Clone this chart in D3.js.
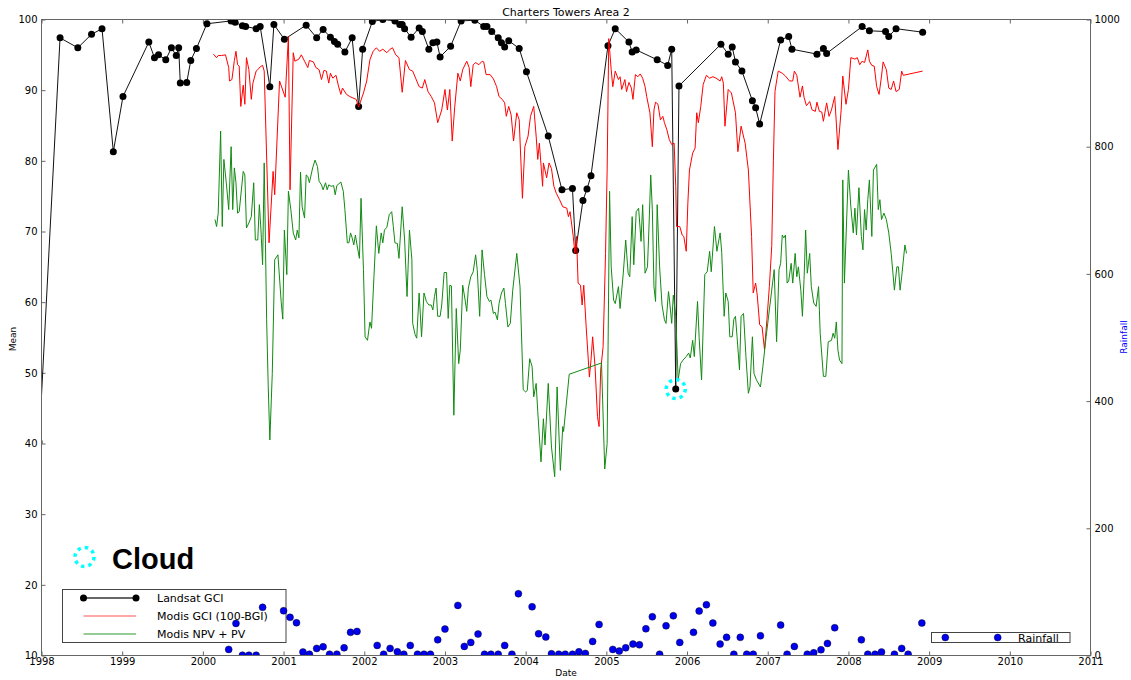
<!DOCTYPE html>
<html>
<head>
<meta charset="utf-8">
<script src="https://cdn.jsdelivr.net/npm/d3@7"></script>
<style>
  body { margin: 0; background: #fff; }
  text { font-family: "DejaVu Sans", sans-serif; fill: #000; }
</style>
</head>
<body>
<svg id="chart" width="1131" height="680"></svg>
<script>
// ---- Landsat GCI (decimal year, value) ----
const landsatDates = [1997.97, 1998.23, 1998.45, 1998.62, 1998.75, 1998.89, 1999.01, 1999.33, 1999.40, 1999.45,
  1999.54, 1999.61, 1999.67, 1999.70, 1999.72, 1999.80, 1999.85, 1999.92, 2000.05, 2000.35,
  2000.40, 2000.49, 2000.53, 2000.66, 2000.71, 2000.83, 2000.88, 2001.01, 2001.28, 2001.41,
  2001.49, 2001.58, 2001.63, 2001.67, 2001.76, 2001.85, 2001.93, 2001.98, 2002.10, 2002.23,
  2002.38, 2002.44, 2002.47, 2002.50, 2002.58, 2002.68, 2002.72, 2002.80, 2002.85, 2002.90,
  2002.94, 2003.07, 2003.20, 2003.37, 2003.48, 2003.52, 2003.58, 2003.66, 2003.70, 2003.74,
  2003.79, 2003.92, 2004.01, 2004.28, 2004.45, 2004.58, 2004.62, 2004.71, 2004.76, 2004.81,
  2005.02, 2005.11, 2005.28, 2005.32, 2005.37, 2005.63, 2005.76, 2005.81, 2005.86, 2005.90,
  2006.42, 2006.51, 2006.56, 2006.60, 2006.68, 2006.81, 2006.85, 2006.90, 2007.16, 2007.26,
  2007.30, 2007.61, 2007.69, 2007.73, 2008.17, 2008.26, 2008.46, 2008.50, 2008.59, 2008.92];
const landsatGCI = [40.2, 97.4, 96.0, 97.9, 98.7, 81.3, 89.1, 96.8, 94.6, 95.0,
  94.3, 96.0, 94.9, 96.0, 91.0, 91.1, 94.2, 95.9, 99.4, 99.8,
  99.6, 99.1, 99.0, 98.7, 99.0, 90.5, 99.3, 97.2, 99.2, 97.4,
  98.6, 97.5, 96.9, 96.5, 95.4, 97.4, 87.7, 95.8, 99.7, 100.0,
  99.8, 99.3, 99.3, 98.7, 97.5, 98.8, 98.3, 95.8, 96.7, 96.8,
  94.7, 96.2, 99.8, 99.9, 99.0, 99.0, 98.3, 97.4, 96.7, 96.1,
  97.0, 95.9, 92.6, 83.5, 75.9, 76.1, 67.3, 74.4, 76.0, 77.9,
  96.3, 98.7, 96.8, 95.4, 95.7, 94.3, 93.5, 95.8, 47.7, 90.6,
  96.5, 95.1, 96.1, 94.0, 92.7, 88.5, 87.5, 85.2, 97.1, 97.6,
  95.8, 95.1, 95.9, 95.2, 99.0, 98.4, 98.3, 97.6, 98.7, 98.2];

// ---- Modis GCI (100-BGI) ----
const modisGciDates = [2000.13, 2000.17, 2000.19, 2000.23, 2000.28, 2000.32, 2000.33, 2000.36, 2000.39, 2000.41,
  2000.43, 2000.45, 2000.47, 2000.50, 2000.52, 2000.54, 2000.57, 2000.60, 2000.62, 2000.66,
  2000.68, 2000.71, 2000.74, 2000.76, 2000.82, 2000.87, 2000.89, 2000.95, 2001.02, 2001.06,
  2001.08, 2001.12, 2001.14, 2001.19, 2001.22, 2001.26, 2001.30, 2001.32, 2001.37, 2001.40,
  2001.44, 2001.47, 2001.50, 2001.53, 2001.56, 2001.58, 2001.61, 2001.65, 2001.68, 2001.71,
  2001.73, 2001.78, 2001.82, 2001.86, 2001.90, 2001.93, 2001.99, 2002.03, 2002.07, 2002.11,
  2002.15, 2002.19, 2002.23, 2002.28, 2002.32, 2002.35, 2002.39, 2002.43, 2002.47, 2002.51,
  2002.56, 2002.60, 2002.64, 2002.68, 2002.72, 2002.75, 2002.79, 2002.83, 2002.87, 2002.91,
  2002.96, 2003.00, 2003.03, 2003.06, 2003.09, 2003.12, 2003.16, 2003.19, 2003.22, 2003.27,
  2003.30, 2003.32, 2003.35, 2003.38, 2003.42, 2003.46, 2003.48, 2003.51, 2003.56, 2003.60,
  2003.64, 2003.67, 2003.71, 2003.74, 2003.76, 2003.79, 2003.82, 2003.85, 2003.89, 2003.92,
  2003.96, 2003.99, 2004.03, 2004.06, 2004.10, 2004.13, 2004.15, 2004.17, 2004.21, 2004.22,
  2004.26, 2004.29, 2004.32, 2004.35, 2004.38, 2004.42, 2004.46, 2004.51, 2004.53, 2004.55,
  2004.59, 2004.61, 2004.63, 2004.65, 2004.68, 2004.70, 2004.72, 2004.75, 2004.79, 2004.81,
  2004.83, 2004.86, 2004.89, 2004.91, 2004.93, 2004.96, 2004.99, 2005.01, 2005.03, 2005.06,
  2005.08, 2005.11, 2005.15, 2005.17, 2005.19, 2005.23, 2005.25, 2005.28, 2005.31, 2005.33,
  2005.36, 2005.39, 2005.42, 2005.45, 2005.48, 2005.50, 2005.54, 2005.57, 2005.59, 2005.61,
  2005.64, 2005.67, 2005.70, 2005.72, 2005.75, 2005.78, 2005.81, 2005.84, 2005.86, 2005.87,
  2005.91, 2005.94, 2005.96, 2005.99, 2006.01, 2006.03, 2006.07, 2006.10, 2006.12, 2006.14,
  2006.17, 2006.20, 2006.24, 2006.28, 2006.32, 2006.36, 2006.41, 2006.43, 2006.45, 2006.47,
  2006.51, 2006.55, 2006.60, 2006.63, 2006.67, 2006.72, 2006.76, 2006.80, 2006.82, 2006.85,
  2006.87, 2006.90, 2006.93, 2006.96, 2006.99, 2007.02, 2007.05, 2007.07, 2007.09, 2007.11,
  2007.13, 2007.18, 2007.22, 2007.27, 2007.31, 2007.33, 2007.36, 2007.40, 2007.43, 2007.45,
  2007.48, 2007.52, 2007.55, 2007.59, 2007.61, 2007.64, 2007.67, 2007.69, 2007.73, 2007.76,
  2007.79, 2007.83, 2007.87, 2007.91, 2007.93, 2007.97, 2008.00, 2008.03, 2008.08, 2008.11,
  2008.14, 2008.17, 2008.20, 2008.24, 2008.26, 2008.29, 2008.32, 2008.35, 2008.38, 2008.41,
  2008.43, 2008.47, 2008.50, 2008.53, 2008.56, 2008.59, 2008.63, 2008.66, 2008.68, 2008.92];
const modisGci = [95.1, 94.6, 94.9, 94.9, 95.0, 93.2, 91.3, 91.5, 94.2, 95.5,
  93.6, 93.4, 87.7, 90.7, 88.0, 94.6, 92.9, 88.7, 91.0, 92.7,
  92.9, 93.3, 93.5, 92.7, 68.4, 78.5, 75.2, 91.3, 89.0, 97.6,
  75.9, 95.3, 94.1, 94.4, 95.0, 94.1, 93.2, 94.2, 94.0, 93.2,
  92.9, 91.5, 92.8, 92.7, 91.0, 92.4, 91.7, 92.1, 90.6, 89.4,
  90.3, 89.4, 89.1, 88.9, 88.7, 87.6, 89.6, 91.3, 94.3, 95.5,
  96.0, 95.5, 95.8, 95.3, 95.8, 96.0, 95.0, 94.6, 89.7, 94.2,
  92.9, 92.7, 91.6, 90.5, 90.3, 91.5, 89.8, 89.1, 88.2, 85.4,
  87.2, 90.1, 87.2, 90.1, 82.8, 87.5, 92.4, 91.3, 92.9, 94.1,
  93.2, 90.5, 93.6, 93.9, 93.6, 94.1, 94.0, 92.2, 92.2, 91.6,
  90.5, 89.1, 88.7, 88.2, 86.3, 87.7, 86.5, 82.8, 86.8, 85.8,
  74.7, 82.0, 83.5, 86.3, 87.7, 83.5, 80.2, 82.5, 76.4, 79.7,
  77.6, 79.7, 78.9, 76.4, 75.4, 74.5, 73.5, 73.3, 72.1, 72.8,
  69.3, 66.9, 69.3, 62.7, 62.4, 59.6, 62.4, 56.5, 49.4, 51.8,
  55.1, 50.9, 43.8, 42.4, 50.4, 53.7, 66.9, 78.7, 97.3, 92.9,
  90.5, 92.7, 91.5, 91.9, 90.1, 91.5, 89.8, 91.1, 90.3, 88.7,
  92.2, 91.9, 92.3, 91.7, 90.5, 89.1, 86.8, 82.0, 87.2, 88.3,
  88.0, 85.8, 86.3, 85.4, 84.4, 83.0, 82.3, 82.5, 76.4, 70.7,
  70.7, 69.5, 69.3, 67.2, 74.0, 78.7, 81.1, 81.8, 86.8, 85.4,
  87.7, 90.8, 92.1, 91.7, 91.9, 91.7, 91.3, 91.9, 91.0, 84.9,
  90.1, 89.6, 86.8, 81.3, 84.9, 82.5, 78.7, 69.3, 61.3, 62.7,
  61.0, 56.8, 56.5, 53.3, 57.5, 62.2, 68.0, 80.0, 89.8, 91.3,
  92.7, 92.4, 92.0, 91.3, 91.3, 92.7, 92.1, 89.0, 90.6, 89.0,
  87.8, 88.4, 87.2, 87.0, 88.3, 87.0, 86.9, 85.6, 88.2, 86.3,
  87.2, 89.1, 81.6, 87.2, 92.0, 88.0, 90.1, 94.6, 94.4, 94.6,
  93.6, 94.1, 93.9, 95.7, 94.1, 93.5, 93.4, 90.5, 89.4, 92.0,
  94.0, 92.9, 90.3, 90.1, 91.3, 89.8, 90.1, 92.7, 92.1, 92.7];

// ---- Modis NPV + PV ----
const modisNpvDates = [2000.15, 2000.17, 2000.19, 2000.22, 2000.24, 2000.26, 2000.29, 2000.32, 2000.35, 2000.37,
  2000.39, 2000.41, 2000.43, 2000.45, 2000.50, 2000.52, 2000.54, 2000.57, 2000.60, 2000.63,
  2000.65, 2000.68, 2000.70, 2000.72, 2000.74, 2000.76, 2000.79, 2000.81, 2000.83, 2000.86,
  2000.89, 2000.93, 2000.97, 2000.99, 2001.01, 2001.04, 2001.06, 2001.09, 2001.12, 2001.15,
  2001.17, 2001.19, 2001.21, 2001.23, 2001.26, 2001.28, 2001.30, 2001.32, 2001.36, 2001.39,
  2001.42, 2001.44, 2001.47, 2001.49, 2001.52, 2001.54, 2001.56, 2001.59, 2001.62, 2001.64,
  2001.66, 2001.71, 2001.74, 2001.76, 2001.79, 2001.81, 2001.83, 2001.85, 2001.87, 2001.89,
  2001.91, 2001.94, 2001.96, 2001.99, 2002.01, 2002.04, 2002.07, 2002.09, 2002.12, 2002.15,
  2002.18, 2002.21, 2002.23, 2002.25, 2002.28, 2002.31, 2002.34, 2002.36, 2002.38, 2002.41,
  2002.43, 2002.47, 2002.50, 2002.53, 2002.56, 2002.59, 2002.60, 2002.63, 2002.65, 2002.68,
  2002.71, 2002.74, 2002.77, 2002.80, 2002.83, 2002.85, 2002.87, 2002.89, 2002.91, 2002.94,
  2002.96, 2002.99, 2003.02, 2003.04, 2003.06, 2003.08, 2003.11, 2003.14, 2003.17, 2003.19,
  2003.22, 2003.25, 2003.27, 2003.29, 2003.32, 2003.35, 2003.38, 2003.40, 2003.43, 2003.46,
  2003.49, 2003.52, 2003.55, 2003.57, 2003.60, 2003.62, 2003.65, 2003.67, 2003.70, 2003.73,
  2003.75, 2003.78, 2003.81, 2003.84, 2003.89, 2003.93, 2003.97, 2004.00, 2004.02, 2004.05,
  2004.08, 2004.10, 2004.13, 2004.15, 2004.19, 2004.22, 2004.24, 2004.28, 2004.32, 2004.36,
  2004.39, 2004.43, 2004.46, 2004.47, 2004.54, 2004.94, 2004.98, 2005.01, 2005.04, 2005.06,
  2005.09, 2005.11, 2005.15, 2005.17, 2005.21, 2005.24, 2005.27, 2005.29, 2005.32, 2005.34,
  2005.37, 2005.40, 2005.43, 2005.45, 2005.48, 2005.51, 2005.53, 2005.55, 2005.57, 2005.59,
  2005.61, 2005.63, 2005.66, 2005.69, 2005.72, 2005.74, 2005.77, 2005.78, 2005.81, 2005.83,
  2005.86, 2005.89, 2005.92, 2005.95, 2005.99, 2006.02, 2006.04, 2006.07, 2006.09, 2006.13,
  2006.15, 2006.18, 2006.22, 2006.25, 2006.28, 2006.30, 2006.34, 2006.37, 2006.41, 2006.43,
  2006.46, 2006.48, 2006.51, 2006.53, 2006.56, 2006.58, 2006.60, 2006.62, 2006.65, 2006.67,
  2006.70, 2006.73, 2006.76, 2006.78, 2006.81, 2006.83, 2006.86, 2006.91, 2006.94, 2006.98,
  2007.02, 2007.06, 2007.08, 2007.11, 2007.14, 2007.16, 2007.18, 2007.20, 2007.22, 2007.24,
  2007.26, 2007.29, 2007.31, 2007.34, 2007.36, 2007.38, 2007.41, 2007.43, 2007.45, 2007.47,
  2007.49, 2007.52, 2007.54, 2007.57, 2007.60, 2007.63, 2007.65, 2007.69, 2007.72, 2007.75,
  2007.79, 2007.81, 2007.83, 2007.85, 2007.87, 2007.89, 2007.92, 2007.93, 2007.95, 2008.00,
  2008.03, 2008.06, 2008.08, 2008.10, 2008.13, 2008.16, 2008.18, 2008.20, 2008.22, 2008.24,
  2008.26, 2008.29, 2008.31, 2008.35, 2008.37, 2008.39, 2008.41, 2008.44, 2008.47, 2008.50,
  2008.53, 2008.57, 2008.60, 2008.62, 2008.64, 2008.66, 2008.70, 2008.72];
const modisNpv = [71.7, 70.7, 72.6, 84.2, 70.7, 80.2, 76.9, 73.1, 82.0, 73.1,
  79.0, 76.9, 72.6, 72.8, 78.5, 78.0, 70.5, 71.2, 72.1, 76.9,
  68.8, 68.8, 73.8, 70.2, 65.3, 79.7, 57.5, 48.0, 40.5, 49.9,
  66.0, 66.7, 60.1, 57.6, 70.2, 63.9, 75.7, 73.1, 69.8, 68.8,
  70.2, 69.1, 78.4, 73.5, 71.9, 78.0, 77.8, 76.9, 79.0, 80.1,
  79.2, 77.1, 76.6, 75.9, 76.9, 75.9, 76.6, 76.4, 76.5, 75.2,
  76.5, 77.0, 75.7, 73.1, 68.4, 68.4, 69.8, 69.1, 68.1, 69.5,
  68.1, 66.2, 74.7, 64.6, 55.1, 54.6, 57.2, 56.3, 63.6, 70.8,
  66.9, 69.8, 68.4, 70.2, 70.6, 72.4, 72.8, 70.7, 68.4, 68.3,
  66.2, 73.5, 68.8, 60.8, 70.2, 66.0, 57.0, 55.4, 54.9, 61.3,
  55.1, 61.3, 60.1, 59.6, 59.6, 58.9, 60.8, 62.0, 58.0, 58.0,
  59.6, 64.2, 64.2, 57.7, 62.4, 62.3, 44.0, 59.1, 51.3, 53.2,
  62.4, 60.3, 58.7, 62.0, 63.6, 64.3, 66.7, 64.6, 58.0, 67.4,
  63.9, 60.8, 60.1, 60.3, 58.4, 58.6, 57.5, 59.8, 61.3, 62.0,
  59.8, 56.5, 57.0, 61.7, 66.9, 62.2, 47.6, 47.3, 47.5, 52.0,
  50.9, 46.6, 48.5, 44.5, 37.4, 43.5, 39.8, 48.5, 39.5, 35.3,
  48.0, 36.2, 42.4, 41.7, 49.8, 51.4, 36.4, 40.0, 75.7, 65.0,
  60.3, 59.8, 62.2, 59.1, 64.1, 68.8, 64.1, 63.6, 72.1, 65.3,
  72.8, 73.3, 68.6, 73.8, 64.1, 65.0, 71.2, 78.0, 73.1, 62.2,
  60.1, 73.8, 65.0, 59.6, 57.5, 57.0, 61.5, 60.6, 57.0, 61.0,
  58.0, 49.0, 51.3, 51.8, 52.3, 52.8, 52.1, 54.6, 52.3, 60.1,
  55.0, 49.0, 63.9, 64.3, 67.2, 64.3, 70.7, 67.2, 69.8, 67.0,
  58.0, 61.3, 60.1, 55.1, 55.1, 57.6, 58.0, 55.1, 50.4, 58.0,
  58.4, 52.3, 47.1, 48.0, 55.1, 49.9, 49.0, 48.0, 50.9, 55.1,
  58.9, 62.7, 64.6, 54.4, 64.6, 65.5, 69.5, 69.1, 69.5, 62.7,
  63.0, 65.5, 62.7, 66.9, 63.6, 65.0, 61.7, 58.0, 63.2, 70.2,
  64.1, 66.9, 62.2, 59.9, 59.4, 62.2, 55.6, 49.5, 49.5, 54.4,
  54.6, 55.6, 54.9, 57.2, 53.2, 51.8, 51.3, 77.3, 62.7, 78.7,
  73.5, 69.8, 73.3, 69.5, 76.2, 69.3, 67.4, 73.1, 70.2, 74.5,
  77.3, 69.3, 78.7, 79.5, 73.1, 74.5, 71.7, 72.6, 71.7, 69.8,
  66.9, 61.7, 65.0, 65.0, 61.7, 63.6, 68.1, 66.9];

// ---- Monthly rainfall (right axis) ----
const rainDates = [2000.32, 2000.41, 2000.49, 2000.57, 2000.66, 2000.74, 2001.00, 2001.08, 2001.16, 2001.24,
  2001.32, 2001.41, 2001.49, 2001.57, 2001.66, 2001.75, 2001.83, 2001.91, 2002.16, 2002.24,
  2002.32, 2002.41, 2002.49, 2002.57, 2002.66, 2002.74, 2002.82, 2002.91, 2003.00, 2003.16,
  2003.24, 2003.32, 2003.41, 2003.49, 2003.57, 2003.66, 2003.74, 2003.83, 2003.91, 2004.08,
  2004.16, 2004.25, 2004.32, 2004.41, 2004.49, 2004.58, 2004.66, 2004.74, 2004.83, 2004.91,
  2005.08, 2005.16, 2005.24, 2005.33, 2005.41, 2005.49, 2005.57, 2005.66, 2005.74, 2005.83,
  2005.91, 2006.08, 2006.15, 2006.24, 2006.32, 2006.41, 2006.49, 2006.58, 2006.66, 2006.74,
  2006.82, 2006.91, 2007.16, 2007.24, 2007.33, 2007.49, 2007.57, 2007.66, 2007.74, 2007.83,
  2008.16, 2008.24, 2008.33, 2008.41, 2008.57, 2008.66, 2008.74, 2008.91];
const rainfall = [9.6, 50.5, 0.5, 0.5, 0.5, 75.7, 70.3, 60.0, 51.5, 5.4,
  2, 11.2, 13.7, 2, 2, 12.1, 36.4, 37.9, 15.9, 2,
  11.2, 5.8, 2, 15.9, 2, 2, 2, 24.7, 41.5, 78.8,
  14.3, 20.6, 33.7, 2, 2, 2, 15.9, 2, 97.1, 76.6,
  34.2, 29.0, 2.7, 2, 2, 2, 5.8, 3.3, 22.2, 48.9,
  9.6, 6.9, 12.1, 17.9, 16.8, 42.0, 60.9, 2, 46.7, 62.5,
  20.6, 36.4, 69.9, 79.8, 51.0, 17.9, 28.5, 2, 28.5, 2,
  2, 31.0, 47.8, 2, 14.3, 2, 4.2, 9.0, 19.0, 43.6,
  24.7, 2, 2, 5.4, 2, 11.2, 2, 51.0];

const yearTicks = d3.range(1998, 2012);
const meanTicks = d3.range(10, 101, 10);
const rainTicks = d3.range(0, 1001, 200);

// ---- layout ----
const svg = d3.select("#chart");
const L = 41.5, R = 1090.5, T = 19.5, B = 655.5;
const frameColor = "#666";

const x = d3.scaleLinear().domain([1998, 2011]).range([L, R]);
const y = d3.scaleLinear().domain([10, 100]).range([B, T]);
const yRain = d3.scaleLinear().domain([0, 1000]).range([B, T]);

svg.append("defs").append("clipPath").attr("id", "plotClip")
  .append("rect").attr("x", L).attr("y", T).attr("width", R - L).attr("height", B - T);

// title
svg.append("text").attr("x", (L + R) / 2).attr("y", 15.5)
  .attr("text-anchor", "middle").style("font-size", "11px")
  .text("Charters Towers Area 2");

// axes with inward ticks
function styleAxis(g) {
  g.select(".domain").remove();
  g.selectAll(".tick line").attr("stroke", frameColor);
  g.selectAll(".tick text").style("font-size", "10px").attr("fill", "#000")
    .style("font-family", '"DejaVu Sans", sans-serif');
}
svg.append("g").attr("transform", `translate(0,${B})`)
  .call(d3.axisBottom(x).tickValues(yearTicks).tickFormat(d3.format("d")).tickSize(-4).tickPadding(2))
  .call(styleAxis);
svg.append("g").attr("transform", `translate(0,${T})`)
  .call(d3.axisTop(x).tickValues(yearTicks).tickFormat("").tickSize(-4))
  .call(styleAxis);
svg.append("g").attr("transform", `translate(${L},0)`)
  .call(d3.axisLeft(y).tickValues(meanTicks).tickFormat(d3.format("d")).tickSize(-4).tickPadding(4))
  .call(styleAxis);
svg.append("g").attr("transform", `translate(${R},0)`)
  .call(d3.axisRight(yRain).tickValues(rainTicks).tickFormat(d3.format("d")).tickSize(-4).tickPadding(4))
  .call(styleAxis);

// axis titles
svg.append("text").attr("x", (L + R) / 2).attr("y", 676)
  .attr("text-anchor", "middle").style("font-size", "9px").text("Date");
svg.append("text").attr("transform", "translate(16,339) rotate(-90)")
  .attr("text-anchor", "middle").style("font-size", "9px").text("Mean");
svg.append("text").attr("transform", "translate(1127,337) rotate(-90)")
  .attr("text-anchor", "middle").style("font-size", "9px").style("fill", "#0000ff").text("Rainfall");

// ---- left-axis series ----
const plot = svg.append("g").attr("clip-path", "url(#plotClip)");

const landsat = landsatDates.map((d, i) => ({ d, v: landsatGCI[i] }));
const gci = modisGciDates.map((d, i) => ({ d, v: modisGci[i] }));
const npv = modisNpvDates.map((d, i) => ({ d, v: modisNpv[i] }));
const rain = rainDates.map((d, i) => ({ d, v: rainfall[i] }));

const line = d3.line().x(p => x(p.d)).y(p => y(p.v));

plot.append("path").datum(landsat).attr("d", line)
  .attr("fill", "none").attr("stroke", "#111").attr("stroke-width", 1);
plot.selectAll("circle.landsat").data(landsat).join("circle")
  .attr("class", "landsat").attr("cx", p => x(p.d)).attr("cy", p => y(p.v))
  .attr("r", 3.5).attr("fill", "#000");

plot.append("path").datum(gci).attr("d", line)
  .attr("fill", "none").attr("stroke", "#ff0000").attr("stroke-width", 1);

plot.append("path").datum(npv).attr("d", line)
  .attr("fill", "none").attr("stroke", "#128a12").attr("stroke-width", 1);

// left-axis legend
const leg = svg.append("g");
leg.append("rect").attr("x", 62.5).attr("y", 589.5).attr("width", 223.5).attr("height", 53)
  .attr("fill", "#fff").attr("stroke", "#444").attr("stroke-width", 1);
const legItems = [
  { label: "Landsat GCI", color: "#111", dots: true, op: 0.85 },
  { label: "Modis GCI (100-BGI)", color: "#ff0000", dots: false, op: 0.45 },
  { label: "Modis NPV + PV", color: "#128a12", dots: false, op: 0.6 }
];
legItems.forEach((it, i) => {
  const cy = 598 + i * 18;
  leg.append("line").attr("x1", 83.5).attr("x2", 136).attr("y1", cy).attr("y2", cy)
    .attr("stroke", it.color).attr("stroke-width", 1.3).attr("stroke-opacity", it.op);
  if (it.dots) {
    [83.5, 136].forEach(cx => leg.append("circle").attr("cx", cx).attr("cy", cy).attr("r", 3.5).attr("fill", "#000"));
  }
  leg.append("text").attr("x", 157).attr("y", cy + 4).style("font-size", "11px").text(it.label);
});

// ---- right-axis series (drawn above the left-axis legend) ----
const plot2 = svg.append("g").attr("clip-path", "url(#plotClip)");
plot2.selectAll("circle.rain").data(rain).join("circle")
  .attr("class", "rain").attr("cx", p => x(p.d)).attr("cy", p => yRain(p.v))
  .attr("r", 3.5).attr("fill", "#0000ee").attr("stroke", "#000").attr("stroke-width", 0.4);

// rainfall legend
const leg2 = svg.append("g");
leg2.append("rect").attr("x", 931.5).attr("y", 632.5).attr("width", 138.5).attr("height", 10)
  .attr("fill", "#fff").attr("stroke", "#444").attr("stroke-width", 1);
[945.3, 997.7].forEach(cx => leg2.append("circle").attr("cx", cx).attr("cy", 637.5).attr("r", 3.5)
  .attr("fill", "#0000ee").attr("stroke", "#000").attr("stroke-width", 0.4));
leg2.append("text").attr("x", 1018).attr("y", 641.5).style("font-size", "11px").text("Rainfall");

// frame
svg.append("rect").attr("x", L).attr("y", T).attr("width", R - L).attr("height", B - T)
  .attr("fill", "none").attr("stroke", frameColor).attr("stroke-width", 1);

// cloud-affected Landsat scene and its key
function cloudRing(g, cx, cy) {
  g.append("circle").attr("cx", cx).attr("cy", cy).attr("r", 9.5)
    .attr("fill", "none").attr("stroke", "#00ffff").attr("stroke-width", 3.5)
    .attr("stroke-dasharray", "3.4 4.06");
}
const cloudIdx = landsatGCI.indexOf(47.7);
cloudRing(svg, x(landsatDates[cloudIdx]), y(landsatGCI[cloudIdx]));
cloudRing(svg, 84.5, 557);
svg.append("text").attr("x", 112).attr("y", 569)
  .style("font-family", '"Liberation Sans", Arial, sans-serif')
  .style("font-weight", "bold").style("font-size", "29px").text("Cloud");
</script>
</body>
</html>
